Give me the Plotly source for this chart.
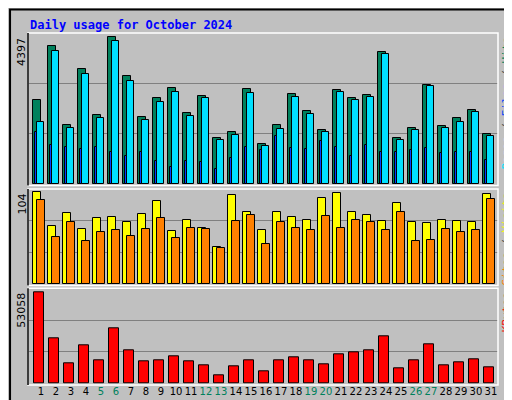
import plotly.graph_objects as go
from plotly.subplots import make_subplots

days = list(range(1, 32))
weekends = [5, 6, 12, 13, 19, 20, 26, 27]

hits = [2513, 4128, 1765, 3440, 2064, 4397, 3230, 2004, 2572, 2871, 2124, 2632, 1376, 1555, 2842, 1196,
        1765, 2692, 2184, 1615, 2812, 2572, 2662, 3948, 1376, 1675, 2961, 1735, 1974, 2213, 1496]
files = [1854, 3978, 1675, 3290, 1974, 4277, 3081, 1914, 2453, 2752, 2034, 2572, 1316, 1466, 2722, 1137,
         1645, 2602, 2094, 1555, 2752, 2513, 2602, 3888, 1316, 1615, 2931, 1675, 1854, 2154, 1436]
pages = [1555, 1166, 1107, 1047, 1107, 957, 837, 957, 688, 508, 688, 658, 449, 778, 1107, 1017,
         1436, 1077, 1047, 1286, 1107, 837, 1166, 957, 957, 1017, 1077, 927, 957, 957, 718]
sites = [104, 66, 81, 63, 75, 76, 71, 80, 94, 60, 73, 64, 42, 101, 82, 61,
         82, 76, 73, 98, 103, 82, 78, 72, 92, 71, 69, 73, 72, 71, 102]
visits = [95, 54, 70, 49, 59, 61, 55, 62, 75, 52, 64, 62, 41, 72, 78, 46,
          70, 64, 61, 77, 64, 73, 70, 61, 82, 49, 50, 63, 59, 61, 96]
kbytes = [53058, 26330, 11810, 22265, 13553, 32140, 19360, 12972, 13553, 15876, 12972, 10648, 4840, 10067,
          13553, 7163, 13553, 15295, 13553, 11229, 17037, 18199, 19360, 27491, 8906, 13553, 22845, 10648,
          12390, 14133, 9486]

bg = '#c0c0c0'
fig = make_subplots(rows=3, cols=1, shared_xaxes=True)

def bar(y, color, off, w, row):
    fig.add_trace(go.Bar(x=days, y=y, marker_color=color, offset=off, width=w,
                         marker_line=dict(color='black', width=1), showlegend=False), row=row, col=1)

bar(hits, '#00805c', -0.52, 0.49, 1)
bar(files, '#00e0ff', -0.25, 0.47, 1)
bar(pages, '#0040ff', -0.42, 0.18, 1)
bar(sites, '#ffff00', -0.52, 0.53, 2)
bar(visits, '#ff8000', -0.25, 0.53, 2)
bar(kbytes, '#ff0000', -0.45, 0.67, 3)

tops = [max(hits) * 1.03, max(sites) * 1.036, max(kbytes) * 1.044]
domains = [[1 - 176.3 / 400, 1 - 25 / 400], [1 - 276.3 / 400, 1 - 181 / 400], [1 - 375.7 / 400, 1 - 280.3 / 400]]
for i in range(3):
    u = tops[i]
    fig.update_yaxes(row=i + 1, col=1, range=[0, u], domain=domains[i], tickvals=[u / 3, 2 * u / 3],
                     showticklabels=False, gridcolor='#808080', zeroline=False, fixedrange=True)
ticktext = [f'<span style="color:#00805c">{d}</span>' if d in weekends else str(d) for d in days]
fig.update_xaxes(range=[0.133, 31.47], domain=[20 / 512, 490 / 512], showgrid=False, zeroline=False,
                 showticklabels=False)
fig.update_xaxes(row=3, col=1, showticklabels=True, tickvals=days, ticktext=ticktext, ticks='',
                 tickangle=0, ticklen=0, tickfont=dict(family='DejaVu Sans', size=10, color='black'))

# panel frames
for d in domains:
    fig.add_shape(type='rect', xref='paper', yref='paper', x0=20 / 512, x1=490 / 512, y0=d[0] - 0.003, y1=d[1],
                  line=dict(color='white', width=1.5))
    fig.add_shape(type='line', xref='paper', yref='paper', x0=20 / 512, x1=20 / 512, y0=d[0] - 0.003, y1=d[1],
                  line=dict(color='black', width=1.5))
# outer frame
fig.add_shape(type='rect', xref='paper', yref='paper', x0=0.004, x1=0.996, y0=0.004, y1=0.996,
              line=dict(color='black', width=2))
fig.add_shape(type='line', xref='paper', yref='paper', x0=0.992, x1=0.992, y0=0.01, y1=0.99,
              line=dict(color='#808080', width=4))
fig.add_shape(type='line', xref='paper', yref='paper', x0=0.01, x1=0.992, y0=0.01, y1=0.01,
              line=dict(color='#808080', width=4))

mono = 'DejaVu Sans Mono'
fig.add_annotation(text='<b>Daily usage for October 2024</b>', xref='paper', yref='paper', x=20 / 512,
                   y=1 - 8 / 400, xanchor='left', yanchor='top', showarrow=False,
                   font=dict(family=mono, size=12, color='#0000ff'))
for lab, d in zip(['4397', '104', '53058'], domains):
    fig.add_annotation(text=lab, xref='paper', yref='paper', x=14 / 512, y=d[1] - 3 / 400,
                       xanchor='center', yanchor='top', textangle=-90, showarrow=False,
                       font=dict(family='DejaVu Sans', size=11, color='black'))
right = [('<span style="color:#00e0ff">Pages</span> / <span style="color:#0040ff">Files</span> / '
          '<span style="color:#00805c">Hits</span>', domains[0]),
         ('<span style="color:#ff8000">Sites</span> / <span style="color:#ffff00">Visits</span>', domains[1]),
         ('<span style="color:#ff0000">KBytes</span>', domains[2])]
for txt, d in right:
    fig.add_annotation(text=txt, xref='paper', yref='paper', x=498 / 512, y=d[1] - 2 / 400,
                       xanchor='center', yanchor='top', textangle=-90, showarrow=False,
                       font=dict(family=mono, size=11, color='#404040'))

fig.update_layout(width=512, height=400, margin=dict(l=0, r=0, t=0, b=0), paper_bgcolor=bg,
                  plot_bgcolor=bg, barmode='overlay', bargap=0)
fig.write_html("out.html")
